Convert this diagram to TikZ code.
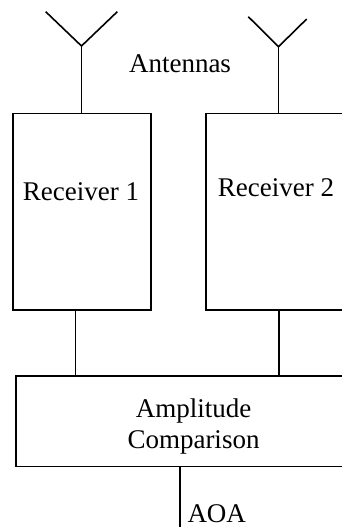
\documentclass[tikz,border=0pt]{standalone}
\usepackage{fontspec}
\setmainfont{Liberation Serif}
\begin{document}
\begin{tikzpicture}[x=1pt,y=-1pt,
  wire/.style={line width=1.6pt,line cap=butt},
  blockbox/.style={draw,line width=1.6pt,rectangle,inner sep=0pt},
  lbl/.style={inner sep=0pt,anchor=base,font=\fontsize{27}{32}\selectfont}]
\useasboundingbox (0,0) rectangle (342,527);
\clip (0,0) rectangle (342,527);
% boxes
\node[blockbox,minimum width=138pt,minimum height=196.7pt] (r1) at (81.7,211.7) {};
\node[blockbox,minimum width=140pt,minimum height=196.7pt] (r2) at (276,211.7) {};
\node[blockbox,minimum width=355pt,minimum height=90.7pt] (amp) at (193.5,421.3) {};
% labels
\node[lbl] (t1) at (81,200) {Receiver 1};
\node[lbl] (t2) at (276,196.7) {Receiver 2};
\node[lbl] (ant) at (180,72.7) {Antennas};
\node[lbl] (a1) at (193.5,417.3) {Amplitude};
\node[lbl] (a2) at (193.5,448.3) {Comparison};
\node[lbl,anchor=base west] (aoa) at (187.3,522.5) {AOA};
% antennas
\coordinate (f1) at (81.5,46);
\coordinate (f2) at (278.5,46.7);
\coordinate (l1) at (45.7,11.7);
\coordinate (l2) at (117.3,11.7);
\coordinate (m1) at (248.3,16.7);
\coordinate (m2) at (306.7,19);
\draw[wire] (l1) -- (f1) -- (l2);
\draw[wire] (m1) -- (f2) -- (m2);
\draw[wire] (f1) -- (f1 |- r1.north);
\draw[wire] (f2) -- (f2 |- r2.north);
% receiver outputs
\coordinate (o1) at (75.3,310);
\coordinate (o2) at (278.7,310);
\draw[wire] (o1 |- r1.south) -- (o1 |- amp.north);
\draw[wire] (o2 |- r2.south) -- (o2 |- amp.north);
% output
\coordinate (out) at (180,527);
\draw[wire] (out |- amp.south) -- (out);
\end{tikzpicture}
\end{document}
